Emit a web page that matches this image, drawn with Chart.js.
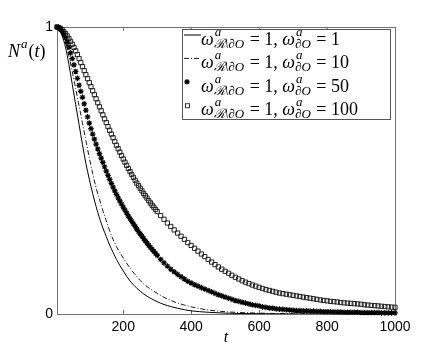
<!DOCTYPE html>
<html>
<head>
<meta charset="utf-8">
<script src="https://cdn.jsdelivr.net/npm/chart.js@4.4.1/dist/chart.umd.min.js"></script>
<style>html,body{margin:0;padding:0;background:#fff}</style>
</head>
<body>
<canvas id="decayChart" width="436" height="354"></canvas>
<script>
// boundary weights shown in the legend (omega on R\dO is 1 for all)
let omegaBoundary = [1, 10, 50, 100];

let xTicks = [200, 400, 600, 800, 1000];
let yTicks = [0, 1];

// t values used for the two plain curves
let lineT = [0, 10, 20, 30, 40, 50, 60, 70, 80, 90, 100, 110, 120, 130, 140, 150, 160, 170, 180,
    200, 220, 240, 260, 280, 300, 320, 340, 360, 380, 400, 450, 500, 600, 700, 800, 900, 1000];
let solidVals = [1, 0.998, 0.97, 0.93, 0.87, 0.80, 0.73, 0.66, 0.59, 0.525, 0.47, 0.42, 0.375, 0.335, 0.30, 0.27, 0.24, 0.215, 0.19,
    0.15, 0.115, 0.09, 0.07, 0.055, 0.043, 0.033, 0.026, 0.02, 0.015, 0.011, 0.006, 0.003, 0.001, 0, 0, 0, 0];
let dashVals = [1, 0.999, 0.98, 0.95, 0.90, 0.845, 0.785, 0.725, 0.665, 0.605, 0.545, 0.49, 0.44, 0.40, 0.36, 0.325, 0.29, 0.26, 0.235,
    0.195, 0.16, 0.13, 0.105, 0.087, 0.072, 0.058, 0.047, 0.038, 0.031, 0.025, 0.014, 0.008, 0.003, 0.001, 0, 0, 0];

// t values for the marker series (solver output: finer early on)
let markerT = [5, 10, 15, 20, 25, 30, 35, 40, 45, 50, 55, 60, 65, 70, 75, 80, 85, 90, 95, 100,
    105, 110, 115, 120, 125, 130, 135, 140, 145, 150, 155, 160, 165, 170, 175, 180, 185, 190, 195, 200,
    205, 210, 215, 220, 225, 230, 235, 240, 245, 250, 255, 260, 265, 270, 275, 280, 285, 290, 295, 300,
    310, 320, 330, 340, 350, 360, 370, 380, 390, 400,
    410, 420, 430, 440, 450, 460, 470, 480, 490, 500, 510, 520, 530, 540, 550, 560, 570, 580, 590, 600,
    610, 620, 630, 640, 650, 660, 670, 680, 690, 700, 710, 720, 730, 740, 750, 760, 770, 780, 790, 800,
    810, 820, 830, 840, 850, 860, 870, 880, 890, 900, 910, 920, 930, 940, 950, 960, 970, 980, 990, 1000];
let starVals = [1.000, 0.998, 0.993, 0.985, 0.975, 0.962, 0.947, 0.930, 0.910, 0.890,
    0.868, 0.845, 0.821, 0.797, 0.776, 0.755, 0.732, 0.710, 0.687, 0.665,
    0.646, 0.627, 0.609, 0.592, 0.575, 0.559, 0.543, 0.528, 0.513, 0.498,
    0.483, 0.469, 0.455, 0.442, 0.429, 0.417, 0.405, 0.394, 0.383, 0.372,
    0.362, 0.352, 0.342, 0.332, 0.323, 0.314, 0.305, 0.296, 0.287, 0.279,
    0.271, 0.263, 0.255, 0.247, 0.239, 0.232, 0.225, 0.218, 0.211, 0.204,
    0.190, 0.178, 0.167, 0.156, 0.147, 0.138, 0.130, 0.122, 0.114, 0.108,
    0.102, 0.097, 0.092, 0.087, 0.082, 0.077, 0.072, 0.067, 0.063, 0.059,
    0.055, 0.051, 0.047, 0.044, 0.041, 0.038, 0.035, 0.032, 0.030, 0.028,
    0.025, 0.023, 0.021, 0.020, 0.018, 0.017, 0.016, 0.015, 0.014, 0.013,
    0.012, 0.012, 0.011, 0.011, 0.010, 0.010, 0.009, 0.009, 0.008, 0.008,
    0.008, 0.007, 0.007, 0.007, 0.006, 0.006, 0.006, 0.006, 0.006, 0.005,
    0.005, 0.005, 0.005, 0.005, 0.005, 0.004, 0.004, 0.004, 0.004, 0.004];
let squareVals = [1.000, 0.998, 0.995, 0.990, 0.984, 0.977, 0.969, 0.960, 0.950, 0.940,
    0.929, 0.917, 0.904, 0.890, 0.876, 0.862, 0.848, 0.834, 0.820, 0.806,
    0.792, 0.778, 0.764, 0.750, 0.736, 0.722, 0.708, 0.694, 0.680, 0.667,
    0.653, 0.640, 0.627, 0.614, 0.601, 0.588, 0.576, 0.564, 0.552, 0.540,
    0.529, 0.518, 0.507, 0.496, 0.486, 0.476, 0.466, 0.456, 0.447, 0.438,
    0.429, 0.420, 0.412, 0.404, 0.395, 0.387, 0.379, 0.372, 0.364, 0.357,
    0.343, 0.330, 0.317, 0.305, 0.293, 0.282, 0.271, 0.260, 0.249, 0.239,
    0.229, 0.219, 0.209, 0.200, 0.190, 0.181, 0.172, 0.164, 0.156, 0.149,
    0.142, 0.135, 0.128, 0.122, 0.116, 0.111, 0.106, 0.101, 0.097, 0.093,
    0.089, 0.085, 0.082, 0.079, 0.076, 0.073, 0.071, 0.069, 0.067, 0.065,
    0.063, 0.061, 0.059, 0.057, 0.055, 0.053, 0.051, 0.049, 0.047, 0.046,
    0.044, 0.043, 0.042, 0.040, 0.039, 0.038, 0.037, 0.036, 0.035, 0.034,
    0.032, 0.031, 0.030, 0.029, 0.028, 0.027, 0.026, 0.025, 0.024, 0.023];

const SERIF = '"Liberation Serif", "DejaVu Serif", serif';
const IT = 'italic 18px ' + SERIF;
const RM = '18px ' + SERIF;
const SM = 'italic 13px ' + SERIF;

function pairs(ts, vs) {
    return ts.map((t, i) => ({x: t, y: vs[i]}));
}

// draws text with stacked super/subscripts, returns end x
function drawMath(ctx, x, y, parts) {
    ctx.textAlign = 'left';
    ctx.textBaseline = 'alphabetic';
    parts.forEach(p => {
        if (p.sup !== undefined) {
            ctx.font = SM;
            let w1 = ctx.measureText(p.sup).width;
            let w2 = ctx.measureText(p.sub).width;
            ctx.fillText(p.sup, x + 1, y - 9);
            ctx.fillText(p.sub, x, y + 3);
            x += Math.max(w1 + 1, w2) + 1;
        } else {
            ctx.font = p.f;
            ctx.fillText(p.t, x, y);
            x += ctx.measureText(p.t).width;
        }
    });
    return x;
}

function drawSample(ctx, ds, x, y) {
    ctx.save();
    ctx.strokeStyle = '#000';
    if (ds.showLine) {
        ctx.lineWidth = ds.borderWidth;
        ctx.setLineDash(ds.borderDash || []);
        ctx.beginPath();
        ctx.moveTo(x, y);
        ctx.lineTo(x + 17, y);
        ctx.stroke();
    } else if (ds.pointStyle == 'star') {
        ctx.lineWidth = 1.2;
        let r = ds.pointRadius;
        let cx = x + 3;
        ctx.beginPath();
        ctx.moveTo(cx - r, y); ctx.lineTo(cx + r, y);
        ctx.moveTo(cx, y - r); ctx.lineTo(cx, y + r);
        ctx.moveTo(cx - r * 0.7, y - r * 0.7); ctx.lineTo(cx + r * 0.7, y + r * 0.7);
        ctx.moveTo(cx - r * 0.7, y + r * 0.7); ctx.lineTo(cx + r * 0.7, y - r * 0.7);
        ctx.stroke();
    } else {
        ctx.lineWidth = 1;
        ctx.strokeStyle = '#333';
        ctx.strokeRect(x + 1.5, y - 1.5, 4, 4);
    }
    ctx.restore();
}

const framePlugin = {
    id: 'frame',
    beforeDatasetsDraw(chart) {
        const {ctx, chartArea: a, scales: {x}} = chart;
        ctx.save();
        ctx.strokeStyle = '#707070';
        ctx.lineWidth = 1;
        ctx.strokeRect(a.left + 0.5, a.top + 0.5, a.right - a.left, a.bottom - a.top);
        ctx.beginPath();
        xTicks.forEach(v => {
            let px = Math.round(x.getPixelForValue(v)) + 0.5;
            ctx.moveTo(px, a.bottom); ctx.lineTo(px, a.bottom - 4);
            ctx.moveTo(px, a.top); ctx.lineTo(px, a.top + 4);
        });
        ctx.stroke();
        ctx.restore();
    },
    afterDatasetsDraw(chart) {
        const {ctx, chartArea: a} = chart;
        ctx.save();
        ctx.fillStyle = '#000';
        // axis titles
        drawMath(ctx, 8, 57, [
            {t: 'N', f: 'italic 18px ' + SERIF},
            {sup: 'a', sub: ''},
            {t: '(', f: '18px ' + SERIF},
            {t: 't', f: 'italic 18px ' + SERIF},
            {t: ')', f: '18px ' + SERIF}
        ]);
        ctx.font = 'italic 16px ' + SERIF;
        ctx.textAlign = 'center';
        ctx.fillText('t', (a.left + a.right) / 2, 342);

        // legend box
        ctx.fillStyle = '#fff';
        ctx.fillRect(182, 29, 208, 90);
        ctx.strokeStyle = '#555';
        ctx.lineWidth = 1;
        ctx.strokeRect(182.5, 29.5, 208, 90);
        ctx.fillStyle = '#000';
        chart.data.datasets.forEach((ds, i) => {
            let base = 45 + i * 23.4;
            drawSample(ctx, ds, 184, base - 10);
            drawMath(ctx, 201, base, [
                {t: 'ω', f: IT},
                {sup: 'a', sub: 'ℛ\\∂O'},
                {t: ' = 1, ', f: RM},
                {t: 'ω', f: IT},
                {sup: 'a', sub: '∂O'},
                {t: ' = ' + omegaBoundary[i], f: RM}
            ]);
        });
        ctx.restore();
    }
};

window.onload = function () {
    let ctx = document.getElementById('decayChart').getContext('2d');
    window.decayChart = new Chart(ctx, {
        type: 'scatter',
        data: {
            datasets: [{
                label: 'w = ' + omegaBoundary[0],
                data: pairs(lineT, solidVals),
                showLine: true,
                borderColor: '#000',
                borderWidth: 1,
                pointRadius: 0,
                cubicInterpolationMode: 'monotone'
            }, {
                label: 'w = ' + omegaBoundary[1],
                data: pairs(lineT, dashVals),
                showLine: true,
                borderColor: '#000',
                borderWidth: 0.9,
                borderDash: [5, 2, 1, 2],
                pointRadius: 0,
                cubicInterpolationMode: 'monotone'
            }, {
                label: 'w = ' + omegaBoundary[2],
                data: pairs(markerT, starVals),
                showLine: false,
                pointStyle: 'star',
                pointRadius: 2.8,
                borderWidth: 1.2,
                borderColor: '#000',
                backgroundColor: '#000',
                clip: false
            }, {
                label: 'w = ' + omegaBoundary[3],
                data: pairs(markerT, squareVals),
                showLine: false,
                pointStyle: 'rect',
                pointRadius: 3,
                borderWidth: 1,
                borderColor: '#222',
                backgroundColor: 'rgba(0,0,0,0)',
                clip: false
            }]
        },
        options: {
            responsive: false,
            animation: false,
            devicePixelRatio: 1,
            layout: {padding: {top: 27, right: 41, left: 0, bottom: 0}},
            plugins: {legend: {display: false}, tooltip: {enabled: false}},
            scales: {
                x: {
                    type: 'linear',
                    min: 5,
                    max: 1000,
                    afterBuildTicks: s => { s.ticks = xTicks.map(v => ({value: v})); },
                    afterFit: s => { s.height = 40; },
                    grid: {display: false, drawTicks: false},
                    border: {display: false},
                    ticks: {font: {family: 'Liberation Sans', size: 14}, color: '#000', padding: 5, maxRotation: 0,
                        callback: v => String(v)}
                },
                y: {
                    min: 0,
                    max: 1,
                    afterBuildTicks: s => { s.ticks = yTicks.map(v => ({value: v})); },
                    afterFit: s => { s.width = 57; },
                    grid: {display: false, drawTicks: false},
                    border: {display: false},
                    ticks: {font: {family: 'Liberation Sans', size: 14}, color: '#000', padding: 4,
                        callback: v => String(v)}
                }
            }
        },
        plugins: [framePlugin]
    });
};
</script>
</body>
</html>
